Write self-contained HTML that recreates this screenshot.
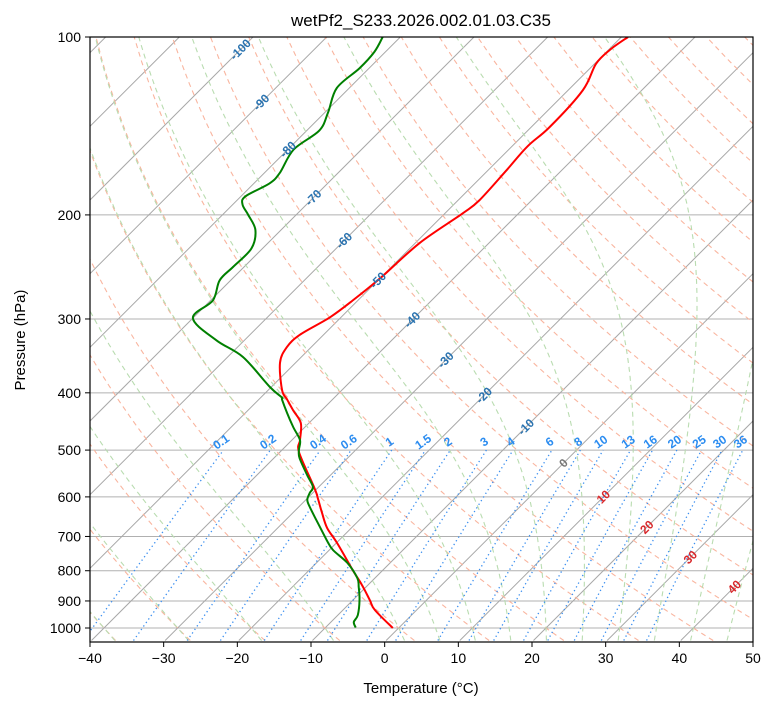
<!DOCTYPE html>
<html><head><meta charset="utf-8"><style>
html,body{margin:0;padding:0;background:#fff;}
svg text{font-family:"Liberation Sans","DejaVu Sans",sans-serif;}
</style></head><body>
<svg id="chart" width="775" height="708" xmlns="http://www.w3.org/2000/svg">
<defs><clipPath id="clip"><rect x="90" y="37" width="663" height="605"/></clipPath></defs>
<rect width="775" height="708" fill="#fff"/>
<text x="421" y="26" font-size="17" text-anchor="middle" fill="#000">wetPf2_S233.2026.002.01.03.C35</text>
<g id="bg" clip-path="url(#clip)"></g>
<g id="fg" clip-path="url(#clip)"></g>
<g id="labels"></g>
<rect x="90" y="37" width="663" height="605" fill="none" stroke="#000" stroke-width="1.2"/>
<g id="axes"></g>
<text x="421" y="693" font-size="15" text-anchor="middle">Temperature (°C)</text>
<text x="25" y="340" font-size="15" text-anchor="middle" transform="rotate(-90 25 340)">Pressure (hPa)</text>
</svg>
<script>
const tempP = [1000,932,897,846,798,718,677,639,603,580,504,481,450,428,411,396,356,335,319,298,279,256,223,199,189,168,153,142,123,111,105,100];
const tempT = [-0.8,-5.7,-7.7,-10.8,-14.1,-19.9,-23.3,-26.0,-28.6,-30.4,-37.4,-38.9,-41.1,-43.9,-46.1,-48.1,-52.1,-53.3,-53.2,-51.5,-50.7,-50.0,-49.4,-47.6,-47.1,-47.5,-47.9,-47.5,-48.0,-49.8,-49.8,-49.1];
const dewP = [998,977,951,897,852,823,776,738,710,657,624,607,591,577,551,516,500,481,457,433,411,407,391,348,326,299,279,258,245,228,212,200,192,186,177,170,155,144,134,122,113,106,100];
const dewT = [-5.9,-6.9,-7.3,-9.1,-11.0,-12.4,-15.8,-19.5,-21.7,-25.8,-28.5,-29.8,-30.4,-30.8,-33.2,-36.5,-37.7,-38.9,-41.6,-44.3,-46.8,-47.2,-50.2,-57.9,-63.8,-70.0,-69.7,-71.5,-71.5,-71.5,-73.5,-76.5,-78.7,-79.4,-77.9,-77.9,-79.2,-78.3,-79.6,-81.7,-81.3,-81.5,-82.4];
const xTicks = [-40,-30,-20,-10,0,10,20,30,40,50];
const pTicks = [100,200,300,400,500,600,700,800,900,1000];
const mixRatios = [0.1,0.2,0.4,0.6,1,1.5,2,3,4,6,8,10,13,16,20,25,30,36];
const isoLabelT = [-100,-90,-80,-70,-60,-50,-40,-30,-20,-10,0,10,20,30,40];
const isoLabelP = [105,129,155,187,221,258,301,352,404,457,526,600,675,759,852];
const dryT0 = [-40,-30,-20,-10,0,10,20,30,40,50,60,70,80,90,100,110,120,130,140,150,160,170,180,190,200];
const moistT0 = [-40,-30,-20,-10,0,5,10,15,20,25,30,35,40,45,50];

const NS="http://www.w3.org/2000/svg";
const X0=90,XW=663,TMIN=-40,TMAX=50,YT=37,YB=642,DEC=591;
const K=XW/(TMAX-TMIN);
function yP(p){return YT+DEC*(Math.log10(p)-2);}
function xT(t,p){const y=yP(p);return X0+(t-TMIN)*K+(YB-y);}
function mk(tag,attrs,parent){const e=document.createElementNS(NS,tag);for(const k in attrs)e.setAttribute(k,attrs[k]);parent.appendChild(e);return e;}
const bg=document.getElementById('bg'),fg=document.getElementById('fg'),lab=document.getElementById('labels'),ax=document.getElementById('axes');
function pathFrom(ps,ts){return ps.map((p,i)=>(i?'L':'M')+xT(ts[i],p).toFixed(1)+','+yP(p).toFixed(1)).join('');}
function smoothFrom(ps,ts){const pts=ps.map((p,i)=>[xT(ts[i],p),yP(p)]);let d='M'+pts[0][0].toFixed(1)+','+pts[0][1].toFixed(1);
for(let i=0;i<pts.length-1;i++){const p0=pts[Math.max(0,i-1)],p1=pts[i],p2=pts[i+1],p3=pts[Math.min(pts.length-1,i+2)];
const c1=[p1[0]+(p2[0]-p0[0])/6,p1[1]+(p2[1]-p0[1])/6],c2=[p2[0]-(p3[0]-p1[0])/6,p2[1]-(p3[1]-p1[1])/6];
d+='C'+c1[0].toFixed(1)+','+c1[1].toFixed(1)+' '+c2[0].toFixed(1)+','+c2[1].toFixed(1)+' '+p2[0].toFixed(1)+','+p2[1].toFixed(1);}return d;}
pTicks.forEach(p=>{const l=mk('line',{x1:X0,x2:X0+XW,y1:yP(p),y2:yP(p),stroke:'#b0b0b0','stroke-width':1},bg);
});
for(let t=-160;t<=50;t+=10){const l=mk('line',{x1:xT(t,1050),y1:yP(1050),x2:xT(t,100),y2:yP(100),stroke:'#a8a8a8','stroke-width':1},bg);
}
const levs=[];for(let p=1050;p>=100;p-=10)levs.push(p);
dryT0.forEach(t0=>{const th=t0+273.15;const ts=levs.map(p=>th*Math.pow(p/1000,0.2857)-273.15);
const e=mk('path',{d:pathFrom(levs,ts),fill:'none',stroke:'#f9b59f','stroke-width':1.1,'stroke-dasharray':'5,4'},bg);
});
function es(T){return 6.112*Math.exp(17.67*(T-273.15)/(T-29.65));}
function dTdp(p,T){const rs=0.622*es(T)/(p-es(T));const Rd=287.04,Lv=2.501e6,Cp=1005.7;
return (Rd*T+Lv*rs)/p/(Cp+Lv*Lv*rs*0.622/(Rd*T*T));}
function moist(t0,pEnd){let T=t0+273.15,p=1000;const out=[[p,T]];const dp=pEnd<1000?-2:2;
while((dp<0&&p>pEnd)||(dp>0&&p<pEnd)){const k1=dTdp(p,T),k2=dTdp(p+dp/2,T+k1*dp/2),k3=dTdp(p+dp/2,T+k2*dp/2),k4=dTdp(p+dp,T+k3*dp);
T+=dp*(k1+2*k2+2*k3+k4)/6;p+=dp;out.push([p,T]);}return out;}
moistT0.forEach(t0=>{const up=moist(t0,100),dn=moist(t0,1050).reverse();const pts=dn.concat(up.slice(1));
const d=pts.map((q,i)=>(i?'L':'M')+xT(q[1]-273.15,q[0]).toFixed(1)+','+yP(q[0]).toFixed(1)).join('');
const e=mk('path',{d:d,fill:'none',stroke:'#b9dcb0','stroke-width':1.1,'stroke-dasharray':'5,4'},bg);
});
function tdFromW(w,p){const wk=w/1000;const e=p*wk/(0.622+wk);const l=Math.log(e/6.112);return 243.5*l/(17.67-l);}
const mixP=[];for(let p=1050;p>=500;p-=10)mixP.push(p);
mixRatios.forEach(w=>{const e=mk('path',{d:pathFrom(mixP,mixP.map(p=>tdFromW(w,p))),fill:'none',stroke:'#3b8ff0','stroke-width':1.3,'stroke-dasharray':'1.3,3'},bg);

const x=xT(tdFromW(w,500),500),y=yP(500)-5;
const t=mk('text',{x:x,y:y,'font-size':12,'font-weight':'bold',fill:'#2b8cf0','text-anchor':'middle',transform:`rotate(-35 ${x} ${y})`},lab);
t.textContent=String(w);});
isoLabelT.forEach((t,i)=>{const p=isoLabelP[i];const x=xT(t,p),y=yP(p);
const c=t<0?'#2a73b0':(t===0?'#777':'#d8282b');
const e=mk('text',{x:x,y:y+4,'font-size':12,'font-weight':'bold',fill:c,'text-anchor':'middle',transform:`rotate(-45 ${x} ${y})`},lab);
e.textContent=String(t);});
const tl=mk('path',{d:smoothFrom(tempP,tempT),fill:'none',stroke:'#ff0000','stroke-width':2,'stroke-linejoin':'round'},fg);

const dl=mk('path',{d:smoothFrom(dewP,dewT),fill:'none',stroke:'#008000','stroke-width':2,'stroke-linejoin':'round'},fg);

xTicks.forEach(t=>{const x=X0+(t-TMIN)*K;
const l=mk('line',{x1:x,x2:x,y1:YB,y2:YB+5,stroke:'#000','stroke-width':1},ax);
const e=mk('text',{x:x,y:YB+21,'font-size':14,'text-anchor':'middle'},ax);e.textContent=(t<0?'−':'')+Math.abs(t);
});
pTicks.forEach(p=>{const y=yP(p);
const l=mk('line',{x1:X0-5,x2:X0,y1:y,y2:y,stroke:'#000','stroke-width':1},ax);
const e=mk('text',{x:X0-9,y:y+5,'font-size':14,'text-anchor':'end'},ax);e.textContent=String(p);
});
</script>
</body></html>
